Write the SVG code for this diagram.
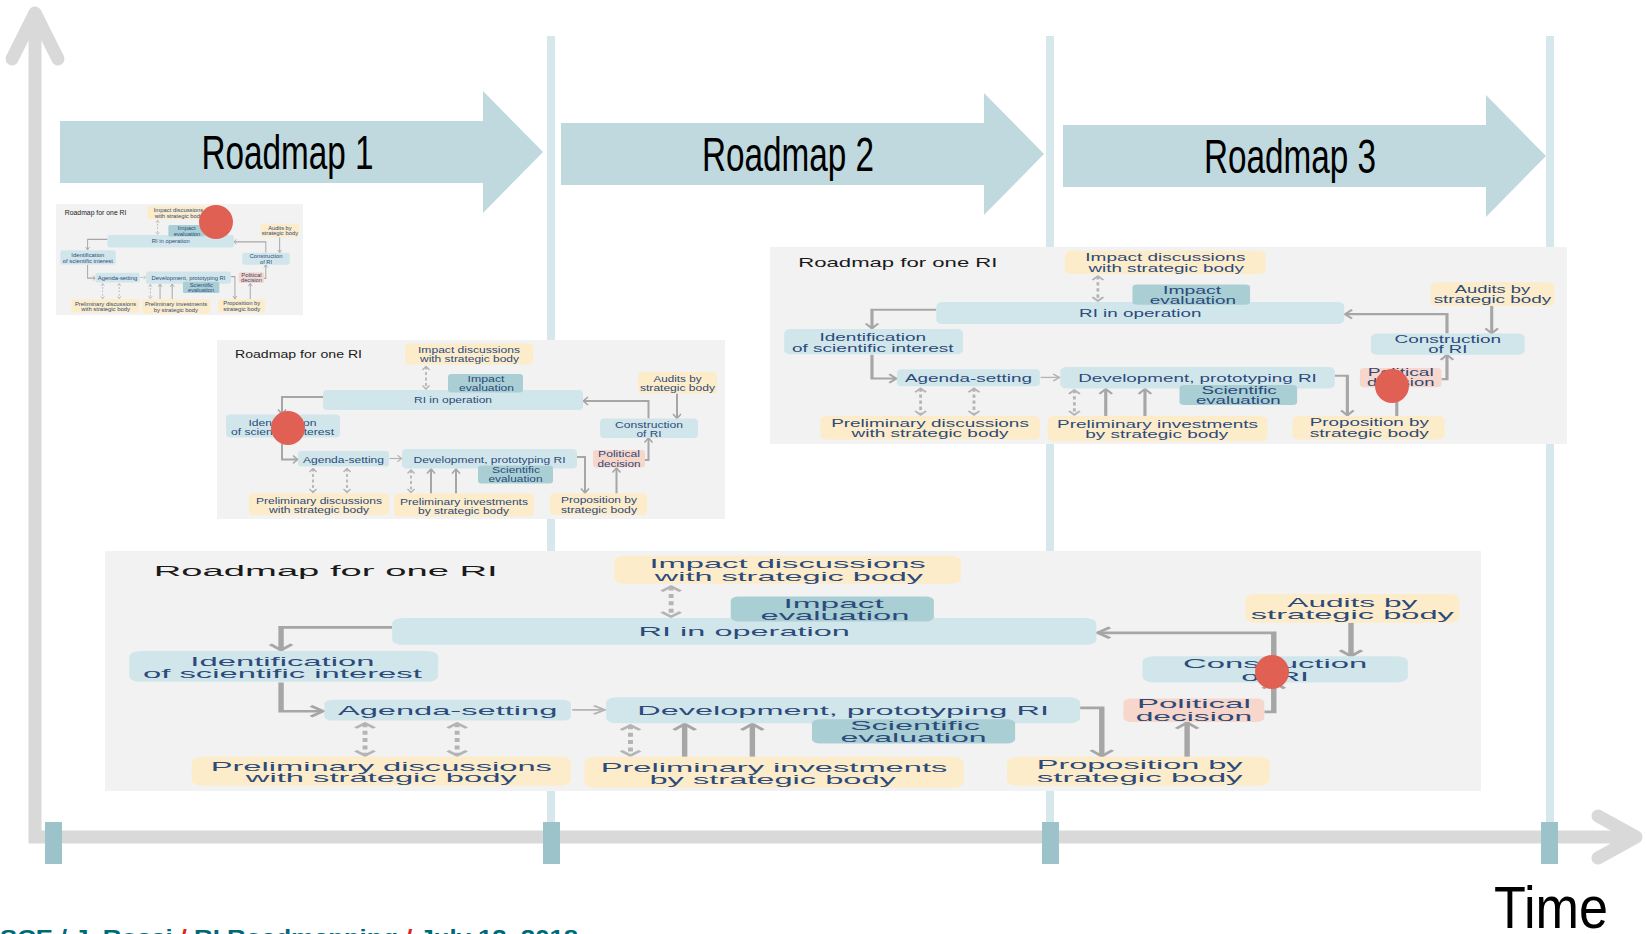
<svg xmlns="http://www.w3.org/2000/svg" xmlns:xlink="http://www.w3.org/1999/xlink" width="1646" height="934" viewBox="0 0 1646 934">
<style>
.bg{fill:#ffffff}
.vline{stroke:#d7e8ec;stroke-width:8;fill:none}
.rm{fill:#bfd9de}
.rmt{font-family:"Liberation Sans",Arial,sans-serif;font-size:48px;fill:#000;text-anchor:middle}
.axis{stroke:#d9d9d9;stroke-width:13;fill:none}
.axisc{stroke:#d9d9d9;stroke-width:13;fill:none;stroke-linecap:round;stroke-linejoin:round}
.tick{fill:#9cc2ca}
.dot{fill:#e06154}
.panel{fill:#f2f2f2}
.yb{fill:#fcecca}
.lb{fill:#d1e6eb}
.tb{fill:#a9cfd5}
.pb{fill:#f7d6cb}
.t{font-family:"Liberation Sans",Arial,sans-serif;font-size:9.3px;fill:#2c4a7a;text-anchor:middle}
.title{font-family:"Liberation Sans",Arial,sans-serif;font-size:11.5px;fill:#1a1a1a}
.c{stroke:#a6a6a6;stroke-width:2;fill:none;marker-end:url(#arr)}
.cthin{stroke:#b4b4b4;stroke-width:1.2;fill:none;marker-end:url(#arrt)}
.d{stroke:#b4b4b4;stroke-width:1.8;fill:none;stroke-dasharray:3 2.5;marker-start:url(#arrd);marker-end:url(#arrd)}
.foot{font-family:"Liberation Sans",Arial,sans-serif;font-size:22px;font-weight:700;fill:#00687c}
</style>
<defs>
<marker id="arr" markerUnits="userSpaceOnUse" viewBox="-7 -6 8 12" markerWidth="8" markerHeight="12" refX="0" refY="0" orient="auto">
<path d="M-4.5,-4 L0,0 L-4.5,4" fill="none" stroke="#a6a6a6" stroke-width="1.6"/>
</marker>
<marker id="arrt" markerUnits="userSpaceOnUse" viewBox="-7 -6 8 12" markerWidth="8" markerHeight="12" refX="0" refY="0" orient="auto">
<path d="M-4,-3.2 L0,0 L-4,3.2" fill="none" stroke="#b4b4b4" stroke-width="1.2"/>
</marker>
<marker id="arrd" markerUnits="userSpaceOnUse" viewBox="-7 -6 8 12" markerWidth="8" markerHeight="12" refX="0" refY="0" orient="auto-start-reverse">
<path d="M-3.5,-3.5 L0,0 L-3.5,3.5" fill="none" stroke="#b4b4b4" stroke-width="1.5"/>
</marker>
<symbol id="roadmap-one-ri" viewBox="0 0 508 179" preserveAspectRatio="none">
<rect class="panel" x="0" y="0" width="508" height="179"/>
<text class="title" x="18" y="18.3" textLength="127" lengthAdjust="spacingAndGlyphs">Roadmap for one RI</text>
<g id="connectors">
<path class="c" d="M106,57 H65 V74"/>
<path class="c" d="M65,98 V119.5 H80.5"/>
<path class="cthin" d="M172.5,118.5 H184.5"/>
<path class="c" d="M360,117 H368 V153"/>
<path class="c" d="M399.5,153.5 V128"/>
<path class="c" d="M428,120 H431.5 V98"/>
<path class="c" d="M431.5,78.5 V61 H366.5"/>
<path class="c" d="M460,53.5 V78.5"/>
<path class="d" d="M209,26.5 V49"/>
<path class="d" d="M96,128.5 V152.5"/>
<path class="d" d="M130,128.5 V152.5"/>
<path class="d" d="M194,130 V152.5"/>
<path class="c" d="M214,153.5 V129"/>
<path class="c" d="M239,153.5 V129"/>
</g>
<g id="n-impact-discussions">
<rect class="yb" x="188" y="3.5" width="128" height="21" rx="4"/>
<text class="t" x="252" y="12.6" textLength="102" lengthAdjust="spacingAndGlyphs">Impact discussions</text>
<text class="t" x="252.5" y="22.3" textLength="99" lengthAdjust="spacingAndGlyphs">with strategic body</text>
</g>
<g id="n-ri-operation">
<rect class="lb" x="106" y="50" width="260" height="20" rx="4"/>
<text class="t" x="236" y="63.3" textLength="78" lengthAdjust="spacingAndGlyphs">RI in operation</text>
</g>
<g id="n-impact-evaluation">
<rect class="tb" x="231" y="34" width="75" height="18.5" rx="3"/>
<text class="t" x="269" y="42.3" textLength="37" lengthAdjust="spacingAndGlyphs">Impact</text>
<text class="t" x="269.5" y="51.4" textLength="55" lengthAdjust="spacingAndGlyphs">evaluation</text>
</g>
<g id="n-audits">
<rect class="yb" x="421" y="32" width="79" height="21.5" rx="4"/>
<text class="t" x="460.5" y="41.6" textLength="48" lengthAdjust="spacingAndGlyphs">Audits by</text>
<text class="t" x="460.5" y="50.6" textLength="75" lengthAdjust="spacingAndGlyphs">strategic body</text>
</g>
<g id="n-construction">
<rect class="lb" x="383" y="78.5" width="98" height="19.5" rx="4"/>
<text class="t" x="432" y="87.6" textLength="68" lengthAdjust="spacingAndGlyphs">Construction</text>
<text class="t" x="432" y="96.6" textLength="25" lengthAdjust="spacingAndGlyphs">of RI</text>
</g>
<g id="n-identification">
<rect class="lb" x="9" y="74.5" width="114" height="23" rx="4"/>
<text class="t" x="65.5" y="85.6" textLength="68" lengthAdjust="spacingAndGlyphs">Identification</text>
<text class="t" x="65.5" y="95" textLength="103" lengthAdjust="spacingAndGlyphs">of scientific interest</text>
</g>
<g id="n-agenda">
<rect class="lb" x="81" y="111" width="91" height="15.5" rx="3"/>
<text class="t" x="126.5" y="122.6" textLength="81" lengthAdjust="spacingAndGlyphs">Agenda-setting</text>
</g>
<g id="n-development">
<rect class="lb" x="185" y="109" width="175" height="19.5" rx="4"/>
<text class="t" x="272.5" y="122.6" textLength="152" lengthAdjust="spacingAndGlyphs">Development, prototyping RI</text>
</g>
<g id="n-scientific-evaluation">
<rect class="tb" x="261" y="125.5" width="75" height="18" rx="3"/>
<text class="t" x="299" y="133.3" textLength="48" lengthAdjust="spacingAndGlyphs">Scientific</text>
<text class="t" x="298.5" y="142.3" textLength="54" lengthAdjust="spacingAndGlyphs">evaluation</text>
</g>
<g id="n-political">
<rect class="pb" x="376" y="110" width="52" height="17.5" rx="3"/>
<text class="t" x="402" y="117.3" textLength="42" lengthAdjust="spacingAndGlyphs">Political</text>
<text class="t" x="402" y="126.6" textLength="43" lengthAdjust="spacingAndGlyphs">decision</text>
</g>
<g id="n-prelim-discussions">
<rect class="yb" x="32" y="153.5" width="140" height="21.5" rx="4"/>
<text class="t" x="102" y="164" textLength="126" lengthAdjust="spacingAndGlyphs">Preliminary discussions</text>
<text class="t" x="102" y="172.6" textLength="100" lengthAdjust="spacingAndGlyphs">with strategic body</text>
</g>
<g id="n-prelim-investments">
<rect class="yb" x="177" y="153.5" width="140" height="23" rx="4"/>
<text class="t" x="247" y="164.6" textLength="128" lengthAdjust="spacingAndGlyphs">Preliminary investments</text>
<text class="t" x="246.5" y="174" textLength="91" lengthAdjust="spacingAndGlyphs">by strategic body</text>
</g>
<g id="n-proposition">
<rect class="yb" x="333" y="153.5" width="97" height="21.5" rx="4"/>
<text class="t" x="382" y="162.6" textLength="76" lengthAdjust="spacingAndGlyphs">Proposition by</text>
<text class="t" x="382" y="172.6" textLength="76" lengthAdjust="spacingAndGlyphs">strategic body</text>
</g>
</symbol>
</defs>
<rect class="bg" x="0" y="0" width="1646" height="934"/>
<g id="period-lines">
<line class="vline" x1="551" y1="36" x2="551" y2="824"/>
<line class="vline" x1="1050" y1="36" x2="1050" y2="824"/>
<line class="vline" x1="1550" y1="36" x2="1550" y2="824"/>
</g>
<g id="roadmap-1">
<polygon class="rm" points="60,121 483,121 483,91 543,152 483,213 483,183 60,183"/>
<text class="rmt" x="287.5" y="168.5" textLength="172" lengthAdjust="spacingAndGlyphs">Roadmap 1</text>
</g>
<g id="roadmap-2">
<polygon class="rm" points="561,123 984,123 984,93 1044,154 984,215 984,185 561,185"/>
<text class="rmt" x="788" y="170.5" textLength="172" lengthAdjust="spacingAndGlyphs">Roadmap 2</text>
</g>
<g id="roadmap-3">
<polygon class="rm" points="1063,125 1486,125 1486,95 1546,156 1486,217 1486,187 1063,187"/>
<text class="rmt" x="1290" y="172.5" textLength="172" lengthAdjust="spacingAndGlyphs">Roadmap 3</text>
</g>
<g id="axes">
<path class="axis" d="M35,14 V837 H1636"/>
<path class="axisc" d="M12,59 L35,13 L58,59"/>
<path class="axisc" d="M1598,816 L1636,837 L1598,858"/>
</g>
<g id="ticks">
<rect class="tick" x="45" y="822" width="17" height="42"/>
<rect class="tick" x="543" y="822" width="17" height="42"/>
<rect class="tick" x="1042" y="822" width="17" height="42"/>
<rect class="tick" x="1541" y="822" width="17" height="42"/>
</g>
<g id="diagram-1"><use href="#roadmap-one-ri" xlink:href="#roadmap-one-ri" x="56" y="204" width="247" height="111"/></g>
<g id="diagram-2"><use href="#roadmap-one-ri" xlink:href="#roadmap-one-ri" x="217" y="340" width="508" height="179"/></g>
<g id="diagram-3"><use href="#roadmap-one-ri" xlink:href="#roadmap-one-ri" x="770" y="247" width="797" height="197"/></g>
<g id="diagram-4"><use href="#roadmap-one-ri" xlink:href="#roadmap-one-ri" x="105" y="551" width="1376" height="240"/></g>
<g id="markers">
<circle class="dot" cx="216" cy="222" r="17"/>
<circle class="dot" cx="288" cy="428" r="17"/>
<circle class="dot" cx="1392" cy="386" r="17"/>
<circle class="dot" cx="1272" cy="672" r="17"/>
</g>
<g id="time-label">
<text x="1551" y="928" font-family="Liberation Sans, Arial, sans-serif" font-size="60" text-anchor="middle" textLength="114" lengthAdjust="spacingAndGlyphs" fill="#000">Time</text>
</g>
<g id="footer">
<text class="foot" x="0" y="945" textLength="578" lengthAdjust="spacingAndGlyphs">SCE / J. Rossi <tspan fill="#e2231a">/</tspan> RI Roadmapping <tspan fill="#e2231a">/</tspan> July 12, 2018</text>
</g>
</svg>
